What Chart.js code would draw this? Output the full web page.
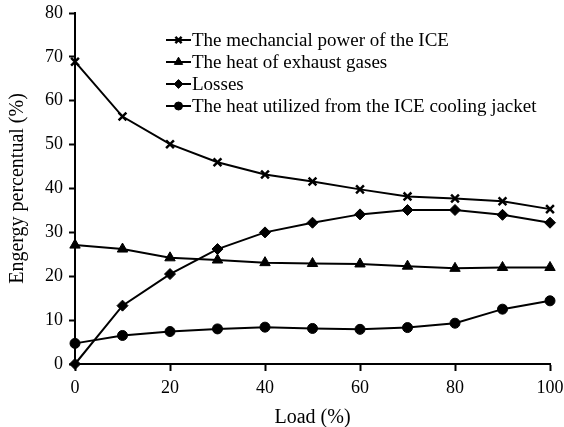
<!DOCTYPE html>
<html>
<head>
<meta charset="utf-8">
<script src="https://cdn.jsdelivr.net/npm/chart.js@4.4.1/dist/chart.umd.min.js"></script>
<style>
  html, body { margin: 0; padding: 0; background: #fff; }
  #wrap { width: 564px; height: 427px; }
</style>
</head>
<body>
<div id="wrap"><canvas id="energyChart"></canvas></div>
<script>
const loads = [0, 10, 20, 30, 40, 50, 60, 70, 80, 90, 100];
const mechanicalPower = [68.9, 56.4, 50.1, 46, 43.2, 41.6, 39.8, 38.2, 37.7, 37.1, 35.3];
const exhaustHeat = [27.1, 26.2, 24.2, 23.7, 23.1, 22.9, 22.8, 22.3, 21.8, 22, 22];
const losses = [0, 13.3, 20.5, 26.2, 30, 32.2, 34.1, 35.1, 35.1, 34, 32.2];
const coolingHeat = [4.7, 6.5, 7.4, 8, 8.4, 8.1, 7.9, 8.3, 9.3, 12.5, 14.4];
const yTicks = [0, 10, 20, 30, 40, 50, 60, 70, 80];
const xTicks = [0, 20, 40, 60, 80, 100];

const seriesNames = [
    'The mechancial power of the ICE',
    'The heat of exhaust gases',
    'Losses',
    'The heat utilized from the ICE cooling jacket'
];

const FONT = '"Liberation Serif", "Times New Roman", serif';

function makeSet(label, values, style, radius) {
    return {
        label: label,
        data: loads.map((x, i) => ({ x: x, y: values[i] })),
        borderColor: '#000',
        backgroundColor: '#000',
        borderWidth: 2,
        pointStyle: style,
        pointRadius: radius,
        pointBorderWidth: style === 'crossRot' ? 2.5 : 1,
        pointBackgroundColor: '#000',
        pointBorderColor: '#000',
        tension: 0,
        clip: false
    };
}

// legend drawn inside the plot, line sample with marker in the middle
const insideLegend = {
    id: 'insideLegend',
    afterDraw(chart) {
        const c = chart.ctx;
        const x0 = 166, y0 = 40, rowH = 22;
        c.save();
        chart.data.datasets.forEach((ds, i) => {
            const y = y0 + i * rowH;
            c.strokeStyle = '#000';
            c.lineWidth = 2;
            c.beginPath();
            c.moveTo(x0, y);
            c.lineTo(x0 + 25, y);
            c.stroke();
            c.fillStyle = '#000';
            c.lineWidth = ds.pointBorderWidth;
            Chart.helpers.drawPoint(c, {
                pointStyle: ds.pointStyle,
                radius: ds.pointRadius * 0.8,
                rotation: 0,
                borderWidth: ds.pointBorderWidth
            }, x0 + 12.5, y);
            c.fillStyle = '#000';
            c.font = '19px ' + FONT;
            c.textBaseline = 'middle';
            c.fillText(ds.label, x0 + 26, y + 1);
        });
        c.restore();
    }
};

const ctx = document.getElementById('energyChart');

new Chart(ctx, {
    type: 'line',
    data: {
        datasets: [
            makeSet(seriesNames[0], mechanicalPower, 'crossRot', 5.5),
            makeSet(seriesNames[1], exhaustHeat, 'triangle', 6),
            makeSet(seriesNames[2], losses, 'rectRot', 5.5),
            makeSet(seriesNames[3], coolingHeat, 'circle', 5)
        ]
    },
    options: {
        responsive: true,
        maintainAspectRatio: false,
        animation: false,
        layout: { padding: { top: 13, right: 14, left: 0, bottom: 0 } },
        plugins: {
            legend: { display: false },
            tooltip: { enabled: false }
        },
        scales: {
            x: {
                type: 'linear',
                min: 0,
                max: 100,
                afterBuildTicks: (scale) => { scale.ticks = xTicks.map(v => ({ value: v })); },
                afterFit: (scale) => {
                    scale.height = 63;
                    scale.paddingLeft = 0;
                    scale.paddingRight = 0;
                },
                grid: { display: true, drawOnChartArea: false, drawTicks: true, tickLength: 7, tickColor: '#000', tickWidth: 2 },
                border: { display: true, color: '#000', width: 2 },
                ticks: { color: '#000', padding: 6, maxRotation: 0, font: { family: FONT, size: 18 } },
                title: { display: true, text: 'Load (%)', color: '#000', padding: { top: 0, bottom: -3 }, font: { family: FONT, size: 20 } }
            },
            y: {
                type: 'linear',
                min: 0,
                max: 80,
                afterBuildTicks: (scale) => { scale.ticks = yTicks.map(v => ({ value: v })); },
                afterFit: (scale) => {
                    scale.width = 75;
                    scale.paddingTop = 0;
                    scale.paddingBottom = 0;
                },
                grid: { display: true, drawOnChartArea: false, drawTicks: true, tickLength: 6, tickColor: '#000', tickWidth: 2 },
                border: { display: true, color: '#000', width: 2 },
                ticks: { color: '#000', padding: 6, font: { family: FONT, size: 18 } },
                title: { display: true, text: 'Engergy percentual (%)', color: '#000', padding: { top: 6, bottom: 0 }, font: { family: FONT, size: 20 } }
            }
        }
    },
    plugins: [insideLegend]
});
</script>
</body>
</html>
